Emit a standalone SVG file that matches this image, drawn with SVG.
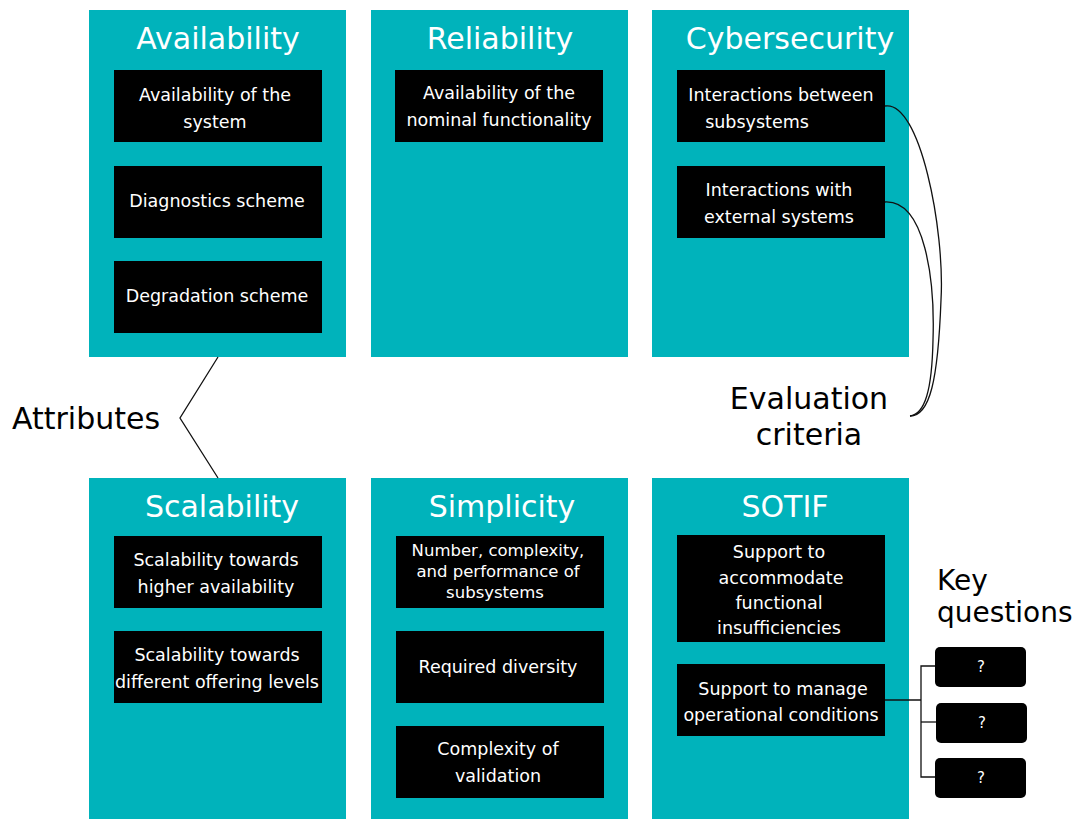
<svg xmlns="http://www.w3.org/2000/svg" width="1082" height="819" viewBox="0 0 1082 819">
  <style>
    .panel { fill: #00B3BB; }
    .box { fill: #000000; }
    .qbox { fill: #000000; }
    .title { font-family: "DejaVu Sans", "Open Sans", sans-serif; font-size: 30px; fill: #ffffff; text-anchor: middle; }
    .item { font-family: "DejaVu Sans", "Open Sans", sans-serif; font-size: 17.5px; fill: #ffffff; text-anchor: middle; }
    .tight { font-size: 16.5px; }
    .label { font-family: "DejaVu Sans", "Open Sans", sans-serif; font-size: 30px; fill: #000000; }
    .wire { fill: none; stroke: #111111; stroke-width: 1.3; }
  </style>

  <!-- Attribute panels, top row -->
  <g id="availability">
    <rect class="panel" x="89" y="10" width="257" height="347"/>
    <text class="title" x="218" y="49">Availability</text>
    <rect class="box" x="114" y="70" width="208" height="72"/>
    <text class="item" x="215" y="101">Availability of the</text>
    <text class="item" x="215" y="128">system</text>
    <rect class="box" x="114" y="166" width="208" height="72"/>
    <text class="item" x="217" y="207">Diagnostics scheme</text>
    <rect class="box" x="114" y="261" width="208" height="72"/>
    <text class="item" x="217" y="302">Degradation scheme</text>
  </g>

  <g id="reliability">
    <rect class="panel" x="371" y="10" width="257" height="347"/>
    <text class="title" x="500" y="49">Reliability</text>
    <rect class="box" x="395" y="70" width="208" height="72"/>
    <text class="item" x="499" y="99">Availability of the</text>
    <text class="item" x="499" y="126">nominal functionality</text>
  </g>

  <g id="cybersecurity">
    <rect class="panel" x="652" y="10" width="257" height="347"/>
    <text class="title" x="790" y="49">Cybersecurity</text>
    <rect class="box" x="677" y="70" width="208" height="72"/>
    <text class="item" x="781" y="101">Interactions between</text>
    <text class="item" x="757" y="128">subsystems</text>
    <rect class="box" x="677" y="166" width="208" height="72"/>
    <text class="item" x="779" y="196">Interactions with</text>
    <text class="item" x="779" y="223">external systems</text>
  </g>

  <!-- Attribute panels, bottom row -->
  <g id="scalability">
    <rect class="panel" x="89" y="478" width="257" height="341"/>
    <text class="title" x="222" y="517">Scalability</text>
    <rect class="box" x="114" y="536" width="208" height="72"/>
    <text class="item" x="216" y="566">Scalability towards</text>
    <text class="item" x="216" y="593">higher availability</text>
    <rect class="box" x="114" y="631" width="208" height="72"/>
    <text class="item" x="217" y="661">Scalability towards</text>
    <text class="item" x="217" y="688">different offering levels</text>
  </g>

  <g id="simplicity">
    <rect class="panel" x="371" y="478" width="257" height="341"/>
    <text class="title" x="502" y="517">Simplicity</text>
    <rect class="box" x="396" y="536" width="208" height="72"/>
    <text class="item tight" x="498" y="556">Number, complexity,</text>
    <text class="item tight" x="498" y="577">and performance of</text>
    <text class="item tight" x="495" y="598">subsystems</text>
    <rect class="box" x="396" y="631" width="208" height="72"/>
    <text class="item" x="498" y="673">Required diversity</text>
    <rect class="box" x="396" y="726" width="208" height="72"/>
    <text class="item" x="498" y="755">Complexity of</text>
    <text class="item" x="498" y="782">validation</text>
  </g>

  <g id="sotif">
    <rect class="panel" x="652" y="478" width="257" height="341"/>
    <text class="title" x="785" y="517">SOTIF</text>
    <rect class="box" x="677" y="535" width="208" height="107"/>
    <text class="item" x="779" y="558">Support to</text>
    <text class="item" x="781" y="584">accommodate</text>
    <text class="item" x="779" y="609">functional</text>
    <text class="item" x="779" y="634">insufficiencies</text>
    <rect class="box" x="677" y="664" width="208" height="72"/>
    <text class="item" x="783" y="695">Support to manage</text>
    <text class="item" x="781" y="721">operational conditions</text>
  </g>

  <!-- Key question placeholders -->
  <g id="questions">
    <rect class="qbox" x="935" y="647" width="91" height="40" rx="5"/>
    <text class="item" x="981" y="672" style="font-size:15px">?</text>
    <rect class="qbox" x="936" y="703" width="91" height="40" rx="5"/>
    <text class="item" x="982" y="728" style="font-size:15px">?</text>
    <rect class="qbox" x="935" y="758" width="91" height="40" rx="5"/>
    <text class="item" x="981" y="783" style="font-size:15px">?</text>
  </g>

  <!-- Free labels -->
  <g id="labels">
    <text class="label" x="12" y="429">Attributes</text>
    <text class="label" x="809" y="409" text-anchor="middle">Evaluation</text>
    <text class="label" x="809" y="445" text-anchor="middle">criteria</text>
    <text class="label" x="937" y="590" style="font-size:28px">Key</text>
    <text class="label" x="937" y="622" style="font-size:28px">questions</text>
  </g>

  <!-- Connectors -->
  <g id="connectors">
    <polyline class="wire" points="218,357 180,418 218,478"/>
    <path class="wire" d="M885,106 C920,100 945,230 941,300 C938,380 930,416 910,416"/>
    <path class="wire" d="M885,202 C925,200 935,280 933,340 C932,390 925,414 910,416"/>
    <polyline class="wire" points="885,700 921,700"/>
    <polyline class="wire" points="935,666 921,666 921,777 935,777"/>
    <polyline class="wire" points="921,722 936,722"/>
  </g>
</svg>
